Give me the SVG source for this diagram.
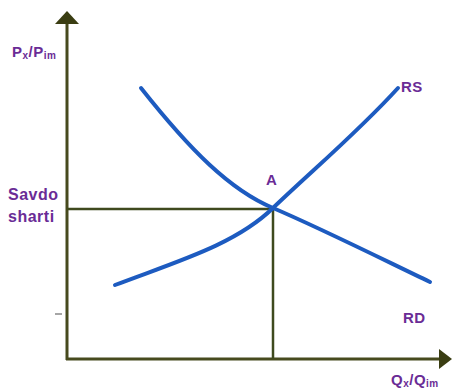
<svg xmlns="http://www.w3.org/2000/svg" width="452" height="392" viewBox="0 0 452 392">
<style>
.ax{stroke:#474a1e;stroke-width:3;fill:none}
.gd{stroke:#3f4a1e;stroke-width:2.5;fill:none}
.cv{stroke:#1d5bc0;stroke-width:4;fill:none;stroke-linecap:round}
.lb{font-family:"Liberation Sans",Arial,sans-serif;font-weight:bold;font-size:15px;fill:#6a2c96;letter-spacing:0.5px}
.sb{font-size:10px}
</style>
<rect width="452" height="392" fill="#fff"/>
<g id="axes">
<line class="ax" x1="67" y1="20" x2="67" y2="360"/>
<line class="ax" x1="66" y1="359" x2="442" y2="359"/>
<polygon points="67,11 55,24 79,24" fill="#3a3d12"/>
<polygon points="452,359 439,349 439,369" fill="#3a3d12"/>
<line x1="55" y1="314" x2="62" y2="314" stroke="#888" stroke-width="1.5"/>
</g>
<g id="connectors">
<line class="gd" x1="67" y1="209" x2="273" y2="209"/>
<line class="gd" x1="273" y1="209" x2="273" y2="359"/>
</g>
<g id="RD">
<path class="cv" d="M141,88 C190,150 230,190 273,208 C320,228 380,258 430,282"/>
<text class="lb" x="403" y="323">RD</text>
</g>
<g id="RS">
<path class="cv" d="M115,285 C175,262 235,245 273,208 C315,168 360,130 398,88"/>
<text class="lb" x="401" y="92">RS</text>
</g>
<g id="A">
<text class="lb" x="266" y="185">A</text>
</g>
<g id="ylabel">
<text class="lb" x="12" y="57">P<tspan class="sb" dy="2">x</tspan><tspan dy="-2">/P</tspan><tspan class="sb" dy="2">im</tspan></text>
</g>
<g id="xlabel">
<text class="lb" x="391" y="385">Q<tspan class="sb" dy="2">x</tspan><tspan dy="-2">/Q</tspan><tspan class="sb" dy="2">im</tspan></text>
</g>
<g id="savdo">
<text class="lb" x="8" y="200" style="font-size:16px">Savdo</text>
<text class="lb" x="8" y="222" style="font-size:16px">sharti</text>
</g>
</svg>
